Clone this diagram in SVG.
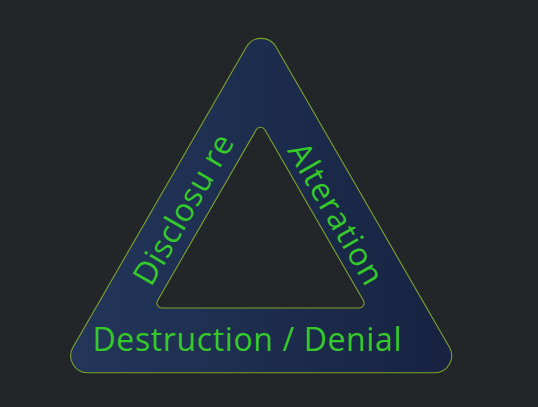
<svg xmlns="http://www.w3.org/2000/svg" width="538" height="407" viewBox="0 0 538 407">
  <defs>
    <linearGradient id="band" x1="58" y1="0" x2="464" y2="0" gradientUnits="userSpaceOnUse">
      <stop offset="0" stop-color="#23375b"/>
      <stop offset="1" stop-color="#172240"/>
    </linearGradient>
    <style>
      .lbl { font-family: "Open Sans", "Noto Sans", "DejaVu Sans", sans-serif; font-size: 32px; fill: #36c92a; text-anchor: middle; }
      .edge { stroke: #7da32c; stroke-width: 1.1; }
    </style>
  </defs>
  <rect width="538" height="407" fill="#232629"/>
  <g id="triangle">
    <path class="edge" fill="url(#band)" fill-rule="evenodd"
      d="M275.9,46.8 L449.4,347.2 A17,17 0 0 1 434.7,372.7 L87.7,372.7 A17,17 0 0 1 73.0,347.2 L246.5,46.8 A17,17 0 0 1 275.9,46.8 Z
         M264.83,129.8 L363.37,300.5 A5,5 0 0 1 359.04,308 L161.96,308 A5,5 0 0 1 157.63,300.5 L256.17,129.8 A5,5 0 0 1 264.83,129.8 Z"/>
  </g>
  <g id="disclosure">
    <text class="lbl" transform="translate(193.1,215) rotate(-60)" x="0" y="0" textLength="168" lengthAdjust="spacing">Disclosu re</text>
  </g>
  <g id="alteration">
    <text class="lbl" transform="translate(326.3,219) rotate(60)" x="0" y="0" textLength="158" lengthAdjust="spacing">Alteration</text>
  </g>
  <g id="destruction">
    <text class="lbl" x="247" y="351" textLength="309" lengthAdjust="spacing">Destruction / Denial</text>
  </g>
</svg>
